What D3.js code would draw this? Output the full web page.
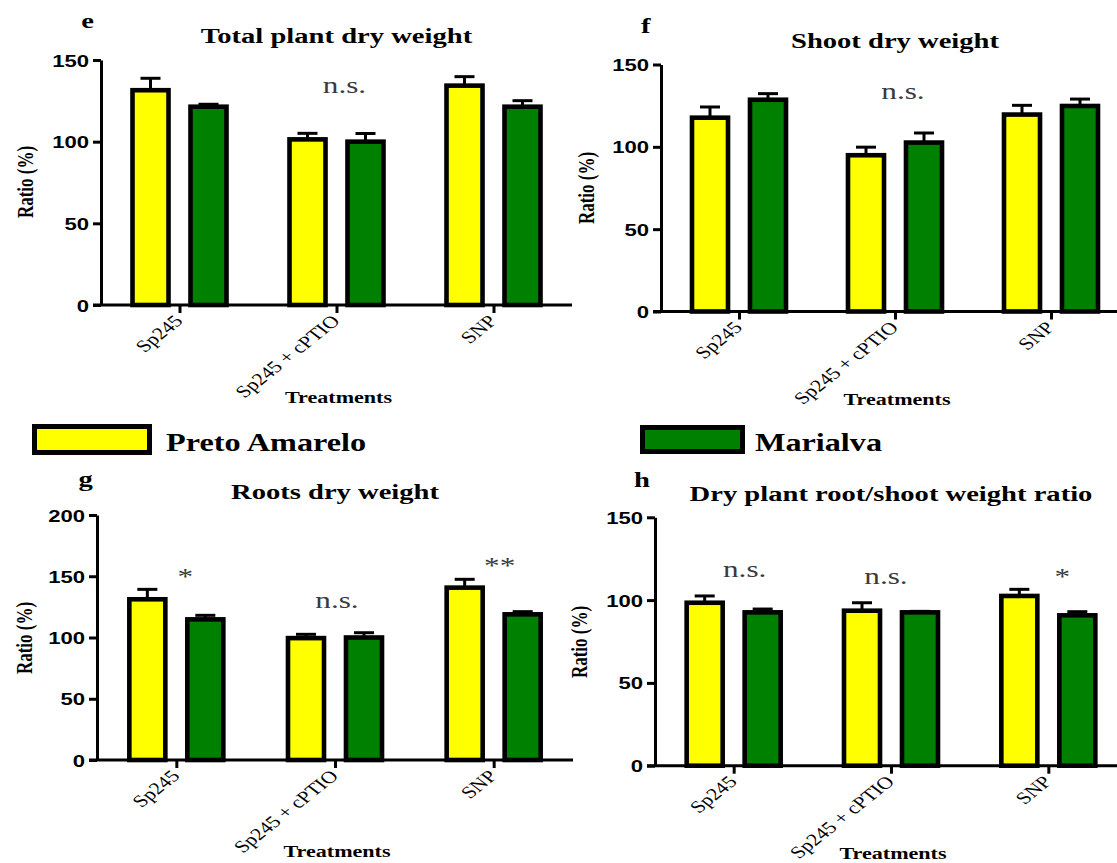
<!DOCTYPE html>
<html><head><meta charset="utf-8">
<script src="https://cdn.jsdelivr.net/npm/d3@7"></script>
<style>html,body{margin:0;padding:0;background:#fff;}svg{display:block;}</style>
</head><body>
<script>
// ---------- data ----------
const categories = ["Sp245", "Sp245 + cPTIO", "SNP"];
const series = ["Preto Amarelo", "Marialva"];
const seriesColors = ["#FFFF00", "#008000"];

// Panel e: Total plant dry weight
const totalPA = [131.5, 101.4, 134.3];
const totalPAErr = [7.3, 3.7, 5.5];
const totalMA = [121.4, 100.0, 121.4];
const totalMAErr = [1.5, 5.0, 3.7];
const totalTicks = [0, 50, 100, 150];
const totalMarks = ["", "n.s.", ""];
const totalMarkLevel = [0, 130, 0];

// Panel f: Shoot dry weight
const shootPA = [117.7, 94.9, 119.6];
const shootPAErr = [6.5, 4.9, 5.6];
const shootMA = [128.6, 102.6, 124.8];
const shootMAErr = [3.7, 5.8, 4.2];
const shootTicks = [0, 50, 100, 150];
const shootMarks = ["", "n.s.", ""];
const shootMarkLevel = [0, 129, 0];

// Panel g: Roots dry weight
const rootPA = [131.2, 99.5, 140.7];
const rootPAErr = [8.1, 3.1, 6.8];
const rootMA = [114.8, 100.0, 118.9];
const rootMAErr = [3.3, 3.9, 2.2];
const rootTicks = [0, 50, 100, 150, 200];
const rootMarks = ["*", "n.s.", "**"];
const rootMarkLevel = [144, 124, 152.5];

// Panel h: Dry plant root/shoot weight ratio
const ratioPA = [98.4, 93.6, 102.5];
const ratioPAErr = [4.1, 4.8, 4.0];
const ratioMA = [92.6, 92.6, 90.8];
const ratioMAErr = [2.0, 0.6, 2.2];
const ratioTicks = [0, 50, 100, 150];
const ratioMarks = ["n.s.", "n.s.", "*"];
const ratioMarkLevel = [114, 110, 110];

// ---------- layout ----------
const W = 1117, H = 863;
const SX = 1.3; // horizontal stretch of the original figure
const SERIF = "'Liberation Serif','Times New Roman',serif";
const SANS = "'Liberation Sans',Arial,sans-serif";

const panels = [
  {letter:"e", title:"Total plant dry weight", pa:totalPA, paE:totalPAErr, ma:totalMA, maE:totalMAErr,
   ticks:totalTicks, marks:totalMarks, markLv:totalMarkLevel, markDx:[0,8,0],
   x0:101, x1:572, y0:305, yTop:60, yMax:150,
   letterPos:[87.5,28], titleY:42.7, ylabPos:[33,182], treatY:403},
  {letter:"f", title:"Shoot dry weight", pa:shootPA, paE:shootPAErr, ma:shootMA, maE:shootMAErr,
   ticks:shootTicks, marks:shootMarks, markLv:shootMarkLevel, markDx:[0,8,0],
   x0:661, x1:1129, y0:311.5, yTop:64.5, yMax:150,
   letterPos:[645.7,33], titleY:48.3, ylabPos:[594,188], treatY:405},
  {letter:"g", title:"Roots dry weight", pa:rootPA, paE:rootPAErr, ma:rootMA, maE:rootMAErr,
   ticks:rootTicks, marks:rootMarks, markLv:rootMarkLevel, markDx:[9,2,6],
   x0:97, x1:573, y0:760, yTop:515, yMax:200,
   letterPos:[85.7,486], titleY:499.3, ylabPos:[32,638], treatY:856.7},
  {letter:"h", title:"Dry plant root/shoot weight ratio", pa:ratioPA, paE:ratioPAErr, ma:ratioMA, maE:ratioMAErr,
   ticks:ratioTicks, marks:ratioMarks, markLv:ratioMarkLevel, markDx:[11,-5,14],
   x0:655, x1:1127, y0:765.7, yTop:517.3, yMax:150,
   letterPos:[642,486.7], titleY:500.7, ylabPos:[587,642], treatY:859}
];

const svg = d3.select("body").append("svg").attr("width", W).attr("height", H);
svg.append("rect").attr("width", W).attr("height", H).attr("fill", "#fff");

function stext(g, x, y, str, o) {
  const sx = o.sx == null ? SX : o.sx;
  return g.append("text")
    .attr("transform", `translate(${x},${y}) scale(${sx},1)` + (o.rotate ? ` rotate(${o.rotate})` : ""))
    .attr("text-anchor", o.anchor || "middle")
    .attr("font-family", o.family || SERIF)
    .attr("font-weight", o.weight || "normal")
    .attr("font-size", o.size)
    .attr("fill", o.fill || "#000")
    .text(str);
}

panels.forEach(p => {
  const g = svg.append("g");
  const y = d3.scaleLinear().domain([0, p.yMax]).range([p.y0, p.yTop]);
  const x = d3.scalePoint().domain(categories).range([p.x0, p.x1]).padding(0.5);
  const xs = d3.scaleBand().domain(series).range([-47, 47]).paddingInner(0.379);

  const vals = [p.pa, p.ma], errs = [p.paE, p.maE];
  series.forEach((s, si) => {
    const bars = categories.map((c, ci) => ({c, v: vals[si][ci], e: errs[si][ci]}));
    g.selectAll(null).data(bars).enter().append("rect")
      .attr("x", d => x(d.c) + xs(s))
      .attr("y", d => y(d.v))
      .attr("width", xs.bandwidth())
      .attr("height", d => y(0) - y(d.v))
      .attr("fill", seriesColors[si])
      .attr("stroke", "#000").attr("stroke-width", 4.6);
    const cx = d => x(d.c) + xs(s) + xs.bandwidth() / 2;
    g.selectAll(null).data(bars).enter().append("line")
      .attr("x1", cx).attr("x2", cx)
      .attr("y1", d => y(d.v)).attr("y2", d => y(d.v + d.e))
      .attr("stroke", "#000").attr("stroke-width", 3);
    g.selectAll(null).data(bars).enter().append("line")
      .attr("x1", d => cx(d) - 10).attr("x2", d => cx(d) + 10)
      .attr("y1", d => y(d.v + d.e)).attr("y2", d => y(d.v + d.e))
      .attr("stroke", "#000").attr("stroke-width", 3);
  });

  // y axis
  const ya = g.append("g").attr("transform", `translate(${p.x0},0)`)
    .call(d3.axisLeft(y).tickValues(p.ticks).tickSize(8).tickSizeOuter(0));
  ya.select(".domain").attr("stroke", "#000").attr("stroke-width", 3);
  ya.selectAll(".tick line").attr("stroke", "#000").attr("stroke-width", 3);
  ya.selectAll(".tick text")
    .attr("x", null).attr("dy", null)
    .attr("transform", `translate(-12,6) scale(${SX},1)`)
    .attr("font-family", SANS).attr("font-weight", "bold").attr("font-size", 17).attr("fill", "#000");

  // x axis
  const xa = g.append("g").attr("transform", `translate(0,${p.y0})`)
    .call(d3.axisBottom(x).tickSize(8).tickSizeOuter(0));
  xa.select(".domain").attr("stroke", "#000").attr("stroke-width", 3)
    .attr("d", `M${p.x0 - 8},0H${p.x1}`);
  xa.selectAll(".tick line").attr("stroke", "#000").attr("stroke-width", 3);
  xa.selectAll(".tick text")
    .attr("y", null).attr("dy", null)
    .attr("transform", `translate(4,17) scale(${SX},1) rotate(-46)`)
    .attr("text-anchor", "end")
    .attr("font-family", SERIF).attr("font-size", 17).attr("fill", "#000");

  // significance marks
  categories.forEach((c, ci) => {
    if (!p.marks[ci]) return;
    stext(g, x(c) + p.markDx[ci], y(p.markLv[ci]), p.marks[ci], {size:24, fill:"#3a3a3a"});
  });

  stext(g, p.letterPos[0], p.letterPos[1], p.letter, {size:22, weight:"bold"});
  stext(g, x(categories[1]), p.titleY, p.title, {size:22, weight:"bold"});
  stext(g, p.ylabPos[0], p.ylabPos[1], "Ratio (%)", {size:17, weight:"bold", rotate:-90});
  stext(g, x(categories[1]) + 2, p.treatY, "Treatments", {size:17, weight:"bold"});
});

// legend
const legend = [
  {box:[32, 424, 120, 31], tx:166},
  {box:[640, 425, 105, 29], tx:755}
];
series.forEach((s, i) => {
  const L = legend[i];
  svg.append("rect").attr("x", L.box[0] + 2.5).attr("y", L.box[1] + 2.5)
    .attr("width", L.box[2] - 5).attr("height", L.box[3] - 5)
    .attr("fill", seriesColors[i]).attr("stroke", "#000").attr("stroke-width", 5);
  stext(svg, L.tx, 451, s, {size:26, weight:"bold", anchor:"start", sx:1.24});
});
</script>
</body></html>
